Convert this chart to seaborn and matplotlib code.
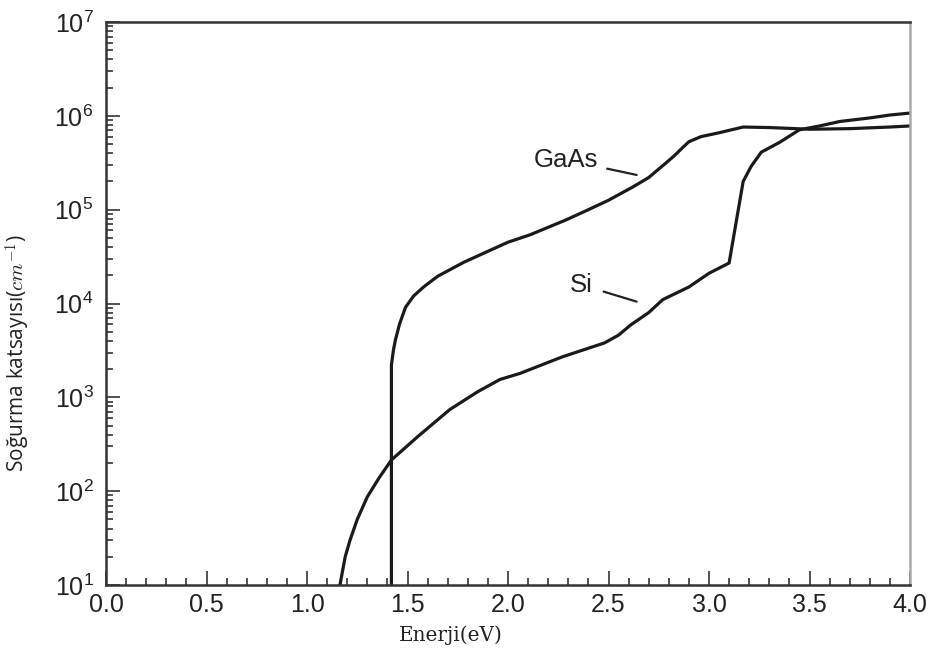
import matplotlib
matplotlib.use("Agg")
import matplotlib.pyplot as plt
import matplotlib.ticker as mticker
import numpy as np
import pandas as pd
import seaborn as sns

# absorption coefficient (cm^-1) vs photon energy (eV)
gaas_ev = [1.42, 1.42, 1.43, 1.44, 1.46, 1.49, 1.53, 1.58, 1.65, 1.78, 1.90, 2.00,
           2.11, 2.29, 2.40, 2.50, 2.62, 2.70, 2.79, 2.83, 2.86, 2.90, 2.96, 3.05,
           3.17, 3.30, 3.50, 3.70, 3.90, 4.00]
gaas_alpha = [10, 2.2e3, 3.2e3, 4.1e3, 6.0e3, 9.1e3, 1.2e4, 1.5e4, 1.95e4, 2.75e4, 3.6e4, 4.5e4,
              5.4e4, 7.8e4, 1.0e5, 1.26e5, 1.74e5, 2.2e5, 3.2e5, 3.8e5, 4.4e5, 5.3e5, 6.0e5, 6.6e5,
              7.6e5, 7.5e5, 7.2e5, 7.3e5, 7.6e5, 7.8e5]

si_ev = [1.164, 1.19, 1.214, 1.25, 1.30, 1.36, 1.42, 1.55, 1.71, 1.85, 1.96, 2.06,
         2.27, 2.48, 2.55, 2.61, 2.70, 2.77, 2.90, 3.00, 3.10, 3.17, 3.21, 3.26,
         3.35, 3.45, 3.55, 3.65, 3.80, 3.90, 4.00]
si_alpha = [10, 20, 30, 50, 87, 140, 215, 380, 740, 1.15e3, 1.55e3, 1.8e3,
            2.7e3, 3.8e3, 4.6e3, 5.9e3, 8.0e3, 1.1e4, 1.5e4, 2.1e4, 2.7e4, 2.0e5, 2.9e5, 4.1e5,
            5.2e5, 7.1e5, 7.8e5, 8.7e5, 9.5e5, 1.02e6, 1.07e6]

df = pd.concat([
    pd.DataFrame({"ev": gaas_ev, "alpha": gaas_alpha, "mat": "GaAs"}),
    pd.DataFrame({"ev": si_ev, "alpha": si_alpha, "mat": "Si"}),
], ignore_index=True)

sns.set_theme(style="ticks")
plt.rcParams["font.family"] = ["Liberation Sans", "DejaVu Sans"]
plt.rcParams["mathtext.fontset"] = "custom"
plt.rcParams["mathtext.rm"] = "Liberation Sans"
plt.rcParams["mathtext.it"] = "Liberation Sans:italic"

fig = plt.figure(figsize=(9.31, 6.62), dpi=100)
ax = fig.add_axes([106 / 931, 1 - 585 / 662, 804 / 931, 563 / 662])

sns.lineplot(data=df, x="ev", y="alpha", units="mat", estimator=None, sort=False,
             color="#1a1a1a", linewidth=2.3, ax=ax, legend=False)

ax.set_yscale("log")
ax.set_xlim(0, 4)
ax.set_ylim(10, 1e7)
ax.xaxis.set_major_locator(mticker.MultipleLocator(0.5))
ax.xaxis.set_minor_locator(mticker.MultipleLocator(0.1))
ax.xaxis.set_major_formatter(mticker.FormatStrFormatter("%.1f"))
ax.yaxis.set_major_locator(mticker.LogLocator(base=10, numticks=10))
ax.yaxis.set_minor_locator(mticker.LogLocator(base=10, subs=np.arange(2, 10), numticks=10))
ax.yaxis.set_major_formatter(mticker.LogFormatterMathtext())
ax.yaxis.set_minor_formatter(mticker.NullFormatter())

ax.tick_params(which="both", direction="in", colors="#333333", labelcolor="#222222",
               labelsize=18, width=1.2)
ax.tick_params(which="major", length=10, pad=6)
ax.tick_params(axis="y", which="major", pad=9)
ax.tick_params(which="minor", length=5)

for side in ["left", "bottom", "top"]:
    ax.spines[side].set_color("#333333")
    ax.spines[side].set_linewidth(1.8)
ax.spines["right"].set_color("#aaaaaa")
ax.spines["right"].set_linewidth(1.8)

ax.set_xlabel("Enerji(eV)", fontsize=14.4, family="DejaVu Serif", color="#222222")
ax.xaxis.set_label_coords(0.429, -0.071)
ax.set_ylabel("Soğurma katsayısı($cm^{-1}$)", fontsize=15, family="Open Sans",
              color="#222222", math_fontfamily="cm")
ax.yaxis.set_label_coords(-0.091, 0.412)

# curve labels with leader lines
ax.annotate("GaAs", xy=(2.64, 10 ** 5.37), xytext=(2.45, 10 ** 5.53),
            ha="right", va="center", fontsize=18.5, color="#222222",
            arrowprops=dict(arrowstyle="-", color="#222222", lw=1.6, shrinkA=4, shrinkB=0))
ax.annotate("Si", xy=(2.64, 10 ** 4.02), xytext=(2.42, 10 ** 4.20),
            ha="right", va="center", fontsize=18.5, color="#222222",
            arrowprops=dict(arrowstyle="-", color="#222222", lw=1.6, shrinkA=6, shrinkB=0))

fig.savefig("out.png", dpi=100)
